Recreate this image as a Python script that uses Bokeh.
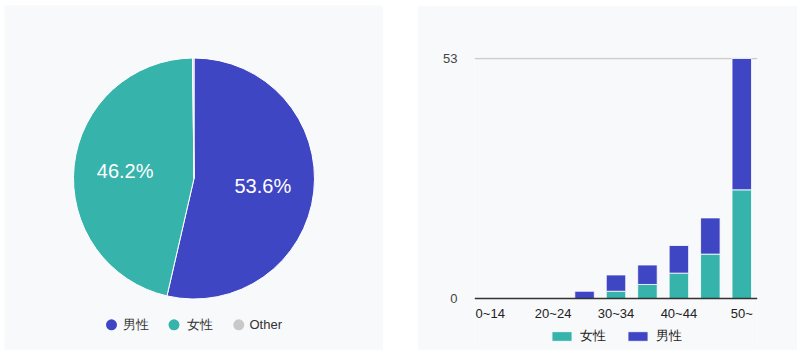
import numpy as np
from bokeh.plotting import figure
from bokeh.layouts import row
from bokeh.models import (ColumnDataSource, Range1d, FixedTicker,
                          Legend, LegendItem, Span)
from bokeh.core.properties import value
from bokeh.embed import file_html
from bokeh.resources import INLINE

# ---------------- data ----------------
pie_labels = ["男性", "女性", "Other"]
pie_values = [53.6, 46.2, 0.2]

age_groups = ["0~14", "15~19", "20~24", "25~29", "30~34", "35~39", "40~44", "45~49", "50~"]
female = [0, 0, 0, 0, 1.6, 3.1, 5.6, 9.8, 24]
male = [0, 0, 0, 1.6, 3.6, 4.3, 6.1, 8.0, 29]
y_ticks = [0, 53]
shown_x_labels = ["0~14", "20~24", "30~34", "40~44", "50~"]

# ---------------- style ----------------
BG = "#f8f9fa"
BLUE = "#3f46c4"
TEAL = "#36b3ab"
GRAY = "#c9c9c9"
pie_colors = [BLUE, TEAL, GRAY]
FONT = "Liberation Sans"

W1, W2, H = 379, 380, 345

# ---------------- pie ----------------
p1 = figure(width=W1, height=H, x_range=Range1d(0, W1), y_range=Range1d(0, H),
            output_backend="svg", toolbar_location=None, min_border=0,
            x_axis_location=None, y_axis_location=None)
p1.frame_align = False
p1.grid.visible = False
p1.outline_line_color = None
p1.background_fill_color = BG
p1.border_fill_color = BG

cx, cy, R = 189.5, 172.0, 120.5
fr = np.array(pie_values, dtype=float) / sum(pie_values)
cum = np.concatenate([[0.0], np.cumsum(fr)])
start = np.pi / 2 - 2 * np.pi * cum[:-1]
end = np.pi / 2 - 2 * np.pi * cum[1:]

wsrc = ColumnDataSource(dict(start=start, end=end, color=pie_colors, label=pie_labels))
p1.wedge(x=cx, y=cy, radius=R, start_angle="start", end_angle="end", direction="clock",
         fill_color="color", line_color="white", line_width=1, source=wsrc)

mid = (start + end) / 2
show = fr > 0.05
lsrc = ColumnDataSource(dict(
    x=(cx + 0.575 * R * np.cos(mid))[show],
    y=(cy + 0.575 * R * np.sin(mid))[show],
    t=[f"{v:.1f}%" for v, s in zip(pie_values, show) if s]))
p1.text(x="x", y="y", text="t", source=lsrc, text_color="white",
        text_font=value(FONT), text_font_size="20px",
        text_align="center", text_baseline="middle")

# pie legend (layout positions)
leg_marker_x = [107, 169.5, 234.3]
leg_text_x = [118.3, 182.7, 245]
leg_y = 25.7
p1.scatter(x=leg_marker_x, y=[leg_y] * 3, size=11, marker="circle",
           fill_color=pie_colors, line_color=None)
p1.text(x=leg_text_x, y=[leg_y] * 3, text=pie_labels, text_color="#333333",
        text_font=value(FONT), text_font_size="13px",
        text_align="left", text_baseline="middle")

# ---------------- stacked bars ----------------
# pixel layout of the bar panel (relative to its own top-left corner)
frame_top, top_tick_px, base_px, frame_bottom = 52, 53, 293, 343
ppu = (base_px - top_tick_px) / max(y_ticks)          # pixels per unit
y_start = -(frame_bottom - base_px) / ppu
y_end = max(y_ticks) + (top_tick_px - frame_top) / ppu

n = len(age_groups)
xpos = np.arange(n) + 0.5
p2 = figure(width=W2, height=H,
            x_range=Range1d(0, n),
            y_range=Range1d(y_start, y_end),
            output_backend="svg", toolbar_location=None,
            x_axis_location=None,
            min_border_left=57, min_border_right=40,
            min_border_top=frame_top, min_border_bottom=H - frame_bottom)
p2.background_fill_color = BG
p2.border_fill_color = BG
p2.outline_line_color = None

src = ColumnDataSource(dict(x=xpos, female=female, male=male))
rs = p2.vbar_stack(["female", "male"], x="x", width=0.62, color=[TEAL, BLUE],
                   source=src, line_color="white", line_width=1, line_alpha=0.8)

p2.xgrid.visible = False
p2.ygrid.ticker = FixedTicker(ticks=y_ticks[1:])
p2.ygrid.grid_line_color = "#cccccc"
p2.ygrid.grid_line_width = 1.5

p2.add_layout(Span(location=0, dimension="width", line_color="#333333", line_width=1.5))

p2.yaxis.ticker = FixedTicker(ticks=y_ticks)
p2.yaxis.axis_line_color = None
p2.yaxis.major_tick_line_color = None
p2.yaxis.minor_tick_line_color = None
p2.yaxis.major_label_standoff = 11
p2.yaxis.major_label_text_font = FONT
p2.yaxis.major_label_text_font_size = "13px"
p2.yaxis.major_label_text_color = "#444444"

# category labels under the baseline
shown_pos = [float(xpos[age_groups.index(g)]) for g in shown_x_labels]
p2.text(x=shown_pos, y=[-15 / ppu] * len(shown_pos), text=shown_x_labels,
        text_color="#222222", text_font=value(FONT), text_font_size="13px",
        text_align="center", text_baseline="middle")

legend = Legend(items=[LegendItem(label="女性", renderers=[rs[0]]),
                       LegendItem(label="男性", renderers=[rs[1]])],
                orientation="horizontal", location=(75, 3),
                glyph_width=25, glyph_height=12, label_standoff=6, spacing=19,
                padding=0, margin=0, border_line_color=None,
                background_fill_alpha=0,
                label_text_font=FONT, label_text_font_size="13px",
                label_text_color="#222222")
p2.add_layout(legend)

layout = row(p1, p2, spacing=34, margin=(5, 0, 0, 4))

open("out.html", "w").write(file_html(layout, INLINE))
